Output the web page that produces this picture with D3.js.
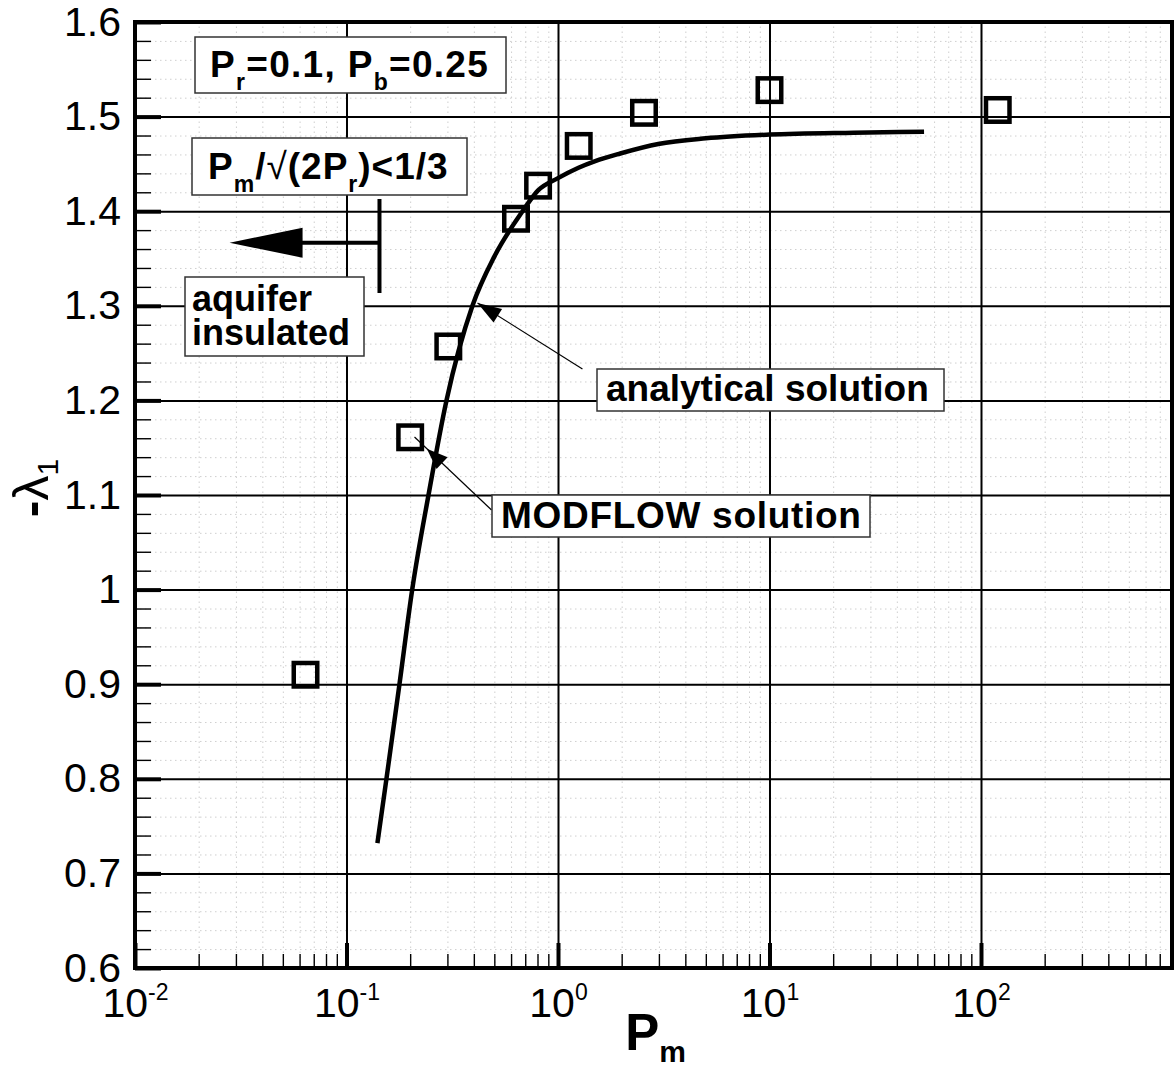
<!DOCTYPE html>
<html>
<head>
<meta charset="utf-8">
<script src="https://cdn.jsdelivr.net/npm/d3@7"></script>
<style>
  html, body { margin: 0; padding: 0; background: #fff; }
  svg { display: block; font-family: "Liberation Sans", Arial, Helvetica, sans-serif; }
</style>
</head>
<body>
<svg id="chart" width="1174" height="1070"></svg>
<script>
// MODFLOW eigenvalue results (open squares)
const modflowPm     = [0.064, 0.200, 0.303, 0.633, 0.805, 1.253, 2.55, 10.0, 120];
const modflowLambda = [0.910, 1.161, 1.257, 1.392, 1.427, 1.469, 1.504, 1.528, 1.507];

// analytical solution (solid curve)
const analyticPm     = [0.140, 0.1545, 0.178, 0.2045, 0.2442, 0.297, 0.394, 0.50, 0.68, 0.805, 1.00, 1.25, 1.50, 1.97, 2.98, 5.0, 10.0, 25.0, 53.8];
const analyticLambda = [0.732, 0.800, 0.900, 1.000, 1.100, 1.200, 1.300, 1.352, 1.400, 1.422, 1.435, 1.446, 1.453, 1.461, 1.471, 1.477, 1.481, 1.483, 1.484];

// axis ticks
const xDecades   = [0.01, 0.1, 1, 10, 100];
const xExponents = ["-2", "-1", "0", "1", "2"];
const yTicks      = [0.6, 0.7, 0.8, 0.9, 1.0, 1.1, 1.2, 1.3, 1.4, 1.5, 1.6];
const yTickLabels = ["0.6", "0.7", "0.8", "0.9", "1", "1.1", "1.2", "1.3", "1.4", "1.5", "1.6"];

// insulated-aquifer threshold marker: arrow tip, arrow base, bar position / extent
const insulatedArrowPm = [0.028, 0.062, 0.1432];
const insulatedArrowLambda = 1.3667;
const insulatedBarLambda = [1.3135, 1.4129];

// leader arrows for the labels: [tip, tail]
const analyticLeaderPm     = [0.4163, 1.305];
const analyticLeaderLambda = [1.303, 1.2332];
const modflowLeaderPm      = [0.2097, 0.485];
const modflowLeaderLambda  = [1.1613, 1.0841];

const L = 135, R = 1172, T = 22, B = 968;
const x = d3.scaleLog().domain([0.01, 800]).range([L, R]);
const y = d3.scaleLinear().domain([0.6, 1.6]).range([B, T]);

const svg = d3.select("#chart");

// minor tick values
const xMinor = [];
xDecades.forEach(d => { for (let k = 2; k <= 9; k++) { const v = d * k; if (v < 800) xMinor.push(v); } });
const yMinor = [];
for (let i = 31; i < 80; i++) if (i % 5 !== 0) yMinor.push(+(i * 0.02).toFixed(2));

function clean(g) { g.select(".domain").remove(); g.selectAll("text").remove(); }

// minor grid (dotted)
svg.append("g").attr("transform", `translate(${L},0)`)
  .call(d3.axisLeft(y).tickValues(yMinor).tickSize(-(R - L)).tickFormat(""))
  .call(clean)
  .selectAll("line").attr("stroke", "#cfcfcf").attr("stroke-width", 1).attr("stroke-dasharray", "1.5,3.5");
svg.append("g").attr("transform", `translate(0,${B})`)
  .call(d3.axisBottom(x).tickValues(xMinor).tickSize(-(B - T)).tickFormat(""))
  .call(clean)
  .selectAll("line").attr("stroke", "#cfcfcf").attr("stroke-width", 1).attr("stroke-dasharray", "1.5,3.5");

// major grid
svg.append("g").attr("transform", `translate(${L},0)`)
  .call(d3.axisLeft(y).tickValues(yTicks).tickSize(-(R - L)).tickFormat(""))
  .call(clean)
  .selectAll("line").attr("stroke", "#000").attr("stroke-width", 2);
svg.append("g").attr("transform", `translate(0,${B})`)
  .call(d3.axisBottom(x).tickValues(xDecades).tickSize(-(B - T)).tickFormat(""))
  .call(clean)
  .selectAll("line").attr("stroke", "#000").attr("stroke-width", 2);

// inward ticks on left and bottom
svg.append("g").attr("transform", `translate(${L},0)`)
  .call(d3.axisLeft(y).tickValues(yMinor).tickSize(-16).tickFormat(""))
  .call(clean)
  .selectAll("line").attr("stroke", "#000").attr("stroke-width", 1.4);
svg.append("g").attr("transform", `translate(${L},0)`)
  .call(d3.axisLeft(y).tickValues(yTicks).tickSize(-26).tickFormat(""))
  .call(clean)
  .selectAll("line").attr("stroke", "#000").attr("stroke-width", 4);
svg.append("g").attr("transform", `translate(0,${B})`)
  .call(d3.axisBottom(x).tickValues(xMinor).tickSize(-14).tickFormat(""))
  .call(clean)
  .selectAll("line").attr("stroke", "#000").attr("stroke-width", 1.4);
svg.append("g").attr("transform", `translate(0,${B})`)
  .call(d3.axisBottom(x).tickValues(xDecades).tickSize(-25).tickFormat(""))
  .call(clean)
  .selectAll("line").attr("stroke", "#000").attr("stroke-width", 4);

// y tick labels
const yLab = svg.append("g").attr("transform", `translate(${L},0)`)
  .call(d3.axisLeft(y).tickValues(yTicks).tickSize(0).tickPadding(14)
        .tickFormat((d, i) => yTickLabels[i]));
yLab.select(".domain").remove();
yLab.selectAll("text").attr("font-size", 41).attr("font-family", "Liberation Sans, Arial, sans-serif")
  .attr("fill", "#000");

// x tick labels: 10 with superscript exponent
const xLab = svg.append("g").attr("transform", `translate(0,${B})`)
  .call(d3.axisBottom(x).tickValues(xDecades).tickSize(0).tickFormat(""));
xLab.select(".domain").remove();
xLab.selectAll(".tick text").each(function(d, i) {
  const t = d3.select(this).attr("y", 49).attr("dy", null).attr("fill", "#000")
    .attr("font-family", "Liberation Sans, Arial, sans-serif").attr("text-anchor", "middle");
  t.text(null);
  t.append("tspan").attr("font-size", 41).text("10");
  t.append("tspan").attr("font-size", 23).attr("dy", -17).text(xExponents[i]);
});

// analytical solution curve
const curvePts = analyticPm.map((p, i) => [p, analyticLambda[i]]);
svg.append("path")
  .datum(curvePts)
  .attr("fill", "none").attr("stroke", "#000").attr("stroke-width", 4.5)
  .attr("stroke-linejoin", "round")
  .attr("d", d3.line().x(d => x(d[0])).y(d => y(d[1])).curve(d3.curveMonotoneX));

// MODFLOW squares
const sq = 23.5;
svg.append("g").selectAll("rect")
  .data(modflowPm.map((p, i) => [p, modflowLambda[i]]))
  .join("rect")
  .attr("x", d => x(d[0]) - sq / 2).attr("y", d => y(d[1]) - sq / 2)
  .attr("width", sq).attr("height", sq)
  .attr("fill", "none").attr("stroke", "#000").attr("stroke-width", 4.5);

// insulated-aquifer arrow and threshold bar
const ay = y(insulatedArrowLambda);
const ax0 = x(insulatedArrowPm[0]), ax1 = x(insulatedArrowPm[1]), ax2 = x(insulatedArrowPm[2]);
svg.append("path")
  .attr("d", `M${ax0},${ay} L${ax1},${ay - 15} L${ax1},${ay + 15} Z`)
  .attr("fill", "#000");
svg.append("line").attr("x1", ax1 - 1).attr("x2", ax2).attr("y1", ay).attr("y2", ay)
  .attr("stroke", "#000").attr("stroke-width", 4);
svg.append("line").attr("x1", ax2).attr("x2", ax2)
  .attr("y1", y(insulatedBarLambda[0])).attr("y2", y(insulatedBarLambda[1]))
  .attr("stroke", "#000").attr("stroke-width", 4);

// leader arrows
function leader(pm, lam, offset, len, half) {
  const x0 = x(pm[0]), y0 = y(lam[0]), x1 = x(pm[1]), y1 = y(lam[1]);
  const dx = x1 - x0, dy = y1 - y0, n = Math.hypot(dx, dy);
  const ux = dx / n, uy = dy / n;
  svg.append("line").attr("x1", x0).attr("y1", y0).attr("x2", x1).attr("y2", y1)
    .attr("stroke", "#000").attr("stroke-width", 1.2);
  const tx = x0 + ux * offset, ty = y0 + uy * offset;
  const bx = tx + ux * len, by = ty + uy * len;
  svg.append("path")
    .attr("d", `M${tx},${ty} L${bx - uy * half},${by + ux * half} L${bx + uy * half},${by - ux * half} Z`)
    .attr("fill", "#000");
}
leader(analyticLeaderPm, analyticLeaderLambda, 0, 24, 8);
leader(modflowLeaderPm, modflowLeaderLambda, 17, 21, 8);

// framed text labels
function textBox(bx, by, bw, bh, opts, lines) {
  svg.append("rect").attr("x", bx).attr("y", by).attr("width", bw).attr("height", bh)
    .attr("fill", "#fff").attr("stroke", "#333").attr("stroke-width", 1.5);
  lines.forEach(line => {
    const t = svg.append("text").attr("x", line.x).attr("y", line.y).attr("fill", "#000")
      .attr("letter-spacing", opts.spacing || 0);
    let cur = 0;
    line.segs.forEach(s => {
      const shift = s.sub ? 13 : 0;
      t.append("tspan")
        .attr("dy", shift - cur)
        .attr("font-size", s.sub ? 23 : (opts.size || 37))
        .attr("font-weight", s.w || "bold")
        .text(s.t);
      cur = shift;
    });
  });
}

textBox(195, 37, 311, 56, { spacing: 1.3 }, [{ x: 210, y: 77, segs: [
  { t: "P" }, { t: "r", sub: true }, { t: "=0.1, P" }, { t: "b", sub: true }, { t: "=0.25" }] }]);
textBox(192, 138, 275, 57, { spacing: 1.0 }, [{ x: 208, y: 179, segs: [
  { t: "P" }, { t: "m", sub: true }, { t: "/" }, { t: "\u221A", w: "normal" }, { t: "(2P" },
  { t: "r", sub: true }, { t: ")<1/3" }] }]);
textBox(185, 277, 179, 79, { size: 36 }, [
  { x: 192, y: 311, segs: [{ t: "aquifer" }] },
  { x: 192, y: 345, segs: [{ t: "insulated" }] }]);
textBox(597, 369, 347, 42, {}, [{ x: 606, y: 401, segs: [{ t: "analytical solution" }] }]);
textBox(492, 495, 378, 42, { spacing: 0.7 }, [{ x: 501, y: 528, segs: [{ t: "MODFLOW solution" }] }]);

// frame
svg.append("rect").attr("x", L).attr("y", T).attr("width", R - L).attr("height", B - T)
  .attr("fill", "none").attr("stroke", "#000").attr("stroke-width", 4);

// axis titles
const xt = svg.append("text").attr("x", (L + R) / 2 + 2).attr("y", 1050)
  .attr("text-anchor", "middle").attr("font-weight", "bold").attr("fill", "#000");
xt.append("tspan").attr("font-size", 51).text("P");
xt.append("tspan").attr("font-size", 30).attr("dy", 12).text("m");

const yt = svg.append("text").attr("transform", "translate(48,488) rotate(-90)")
  .attr("text-anchor", "middle").attr("fill", "#000");
yt.append("tspan").attr("font-size", 50).attr("font-weight", "bold").text("-");
yt.append("tspan").attr("font-size", 50).text("\u03BB");
yt.append("tspan").attr("font-size", 30).attr("dy", 10).text("1");
</script>
</body>
</html>
